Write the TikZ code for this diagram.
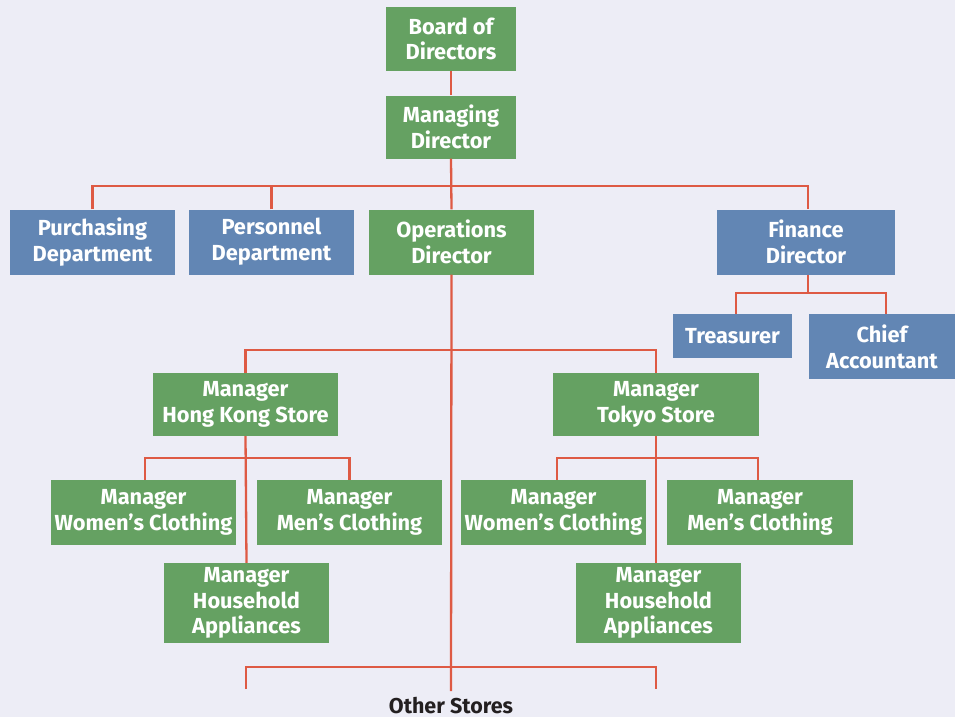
\documentclass[tikz,border=0pt]{standalone}
\usepackage{fontspec}
\setmainfont{Fira Sans}
\definecolor{bgc}{HTML}{EDEDF6}
\definecolor{gboxc}{HTML}{65A162}
\definecolor{bboxc}{HTML}{6286B4}
\definecolor{linec}{HTML}{DE5A44}
\definecolor{textdark}{HTML}{231F20}
\begin{document}
\begin{tikzpicture}[x=1pt,y=-1pt,
  box/.style={rectangle, inner sep=0pt, align=center, text=white,
    font=\fontsize{21.8}{25.8}\selectfont\bfseries},
  gbox/.style={box, fill=gboxc},
  bbox/.style={box, fill=bboxc},
  ln/.style={draw=linec, line width=2.3pt}]
\useasboundingbox (0,0) rectangle (955,717);
\fill[bgc] (0,0) rectangle (955,717);
% connector coordinates
\coordinate (bar1) at (451,186);
\coordinate (bar2) at (451,350);
\coordinate (bar3) at (246,458);
\coordinate (bar4) at (656,458);
\coordinate (bar5) at (451,667);
\coordinate (bar6) at (808,293);
\coordinate (o1) at (246,689);
\coordinate (o2) at (656,689);
\coordinate (oend) at (451,691);
% nodes
\node[gbox, minimum width=130, minimum height=63] (board) at (451,39) {Board of\\Directors};
\node[gbox, minimum width=130, minimum height=63] (mgr) at (451,127) {Managing\\Director};
\node[bbox, minimum width=165, minimum height=65] (purch) at (92.5,242) {Purchasing\\Department};
\node[bbox, minimum width=165, minimum height=65] (pers) at (271.5,242) {Personnel\\Department};
\node[gbox, minimum width=165, minimum height=65] (ops) at (451.5,242) {Operations\\Director};
\node[bbox, minimum width=178, minimum height=65] (fin) at (806,242) {Finance\\Director};
\node[bbox, minimum width=119, minimum height=44] (treas) at (732.5,336) {Treasurer};
\node[bbox, minimum width=146, minimum height=65] (chief) at (882,346.5) {Chief\\Accountant};
\node[gbox, minimum width=185, minimum height=63] (hk) at (245.5,404.5) {Manager\\Hong Kong Store};
\node[gbox, minimum width=206, minimum height=63] (tk) at (656,404.5) {Manager\\Tokyo Store};
\node[gbox, minimum width=185, minimum height=65] (hkw) at (143.5,512.5) {Manager\\Women’s Clothing};
\node[gbox, minimum width=185, minimum height=65] (hkm) at (349.5,512.5) {Manager\\Men’s Clothing};
\node[gbox, minimum width=165, minimum height=80] (hkh) at (246.5,603) {Manager\\Household\\Appliances};
\node[gbox, minimum width=185, minimum height=65] (tkw) at (553.5,512.5) {Manager\\Women’s Clothing};
\node[gbox, minimum width=186, minimum height=65] (tkm) at (760,512.5) {Manager\\Men’s Clothing};
\node[gbox, minimum width=165, minimum height=80] (tkh) at (658.5,603) {Manager\\Household\\Appliances};
\node[text=textdark, font=\fontsize{21.5}{24}\selectfont\bfseries, inner sep=0pt, anchor=base] (other) at (451,713) {Other Stores};
% connectors
\draw[ln] (board.south) -- (mgr.north);
\draw[ln] (mgr.south) -- (ops.north);
\draw[ln] (purch.north) |- (bar1) -| (fin.north -| bar6);
\draw[ln] (pers.north) -- (pers.north |- bar1);
\draw[ln] (fin.south -| bar6) -- (bar6);
\draw[ln] (treas.north -| 736,0) |- (bar6) -| (chief.north -| 886,0);
\draw[ln] (ops.south) -- (oend);
\draw[ln] (hk.north) |- (bar2) -| (tk.north);
\draw[ln] (hk.south) -- (hkh.north);
\draw[ln] (tk.south) -- (tkh.north -| tk.south);
\draw[ln] (hkw.north -| 145,0) |- (bar3) -| (hkm.north);
\draw[ln] (tkw.north -| 557,0) |- (bar4) -| (tkm.north -| 758,0);
\draw[ln] (o1) |- (bar5) -| (o2);
\end{tikzpicture}
\end{document}
